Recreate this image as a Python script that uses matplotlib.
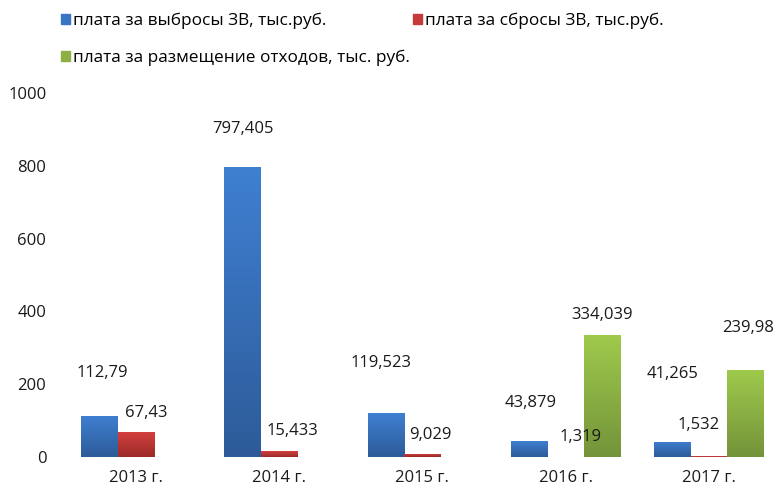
import numpy as np
import matplotlib.pyplot as plt
from matplotlib.colors import LinearSegmentedColormap
from matplotlib.patches import Patch

plt.rcParams['font.family'] = ['Open Sans', 'DejaVu Sans']

# Data
years = ["2013 г.", "2014 г.", "2015 г.", "2016 г.", "2017 г."]
series_names = ["плата за выбросы ЗВ, тыс.руб.",
                "плата за сбросы ЗВ, тыс.руб.",
                "плата за размещение отходов, тыс. руб."]
emissions = [112.79, 797.405, 119.523, 43.879, 41.265]
discharges = [67.43, 15.433, 9.029, 1.319, 1.532]
waste = [0, 0, 0, 334.039, 239.98]
label_emissions = ["112,79", "797,405", "119,523", "43,879", "41,265"]
label_discharges = ["67,43", "15,433", "9,029", "1,319", "1,532"]
label_waste = [None, None, None, "334,039", "239,98"]

# label offsets (pixels) from bar top centre, like the hand-placed Excel labels
off_emissions = [(3, 43), (0, 38), (-5, 50), (2, 38), (0, 68)]
off_discharges = [(10, 19), (13, 20), (8, 19), (15, 20), (-10, 31)]
off_waste = [None, None, None, (0, 20), (3, 42)]

colors = [("#3f80d2", "#2d5b98"), ("#d4403e", "#9a2b29"), ("#9fca4c", "#74933a")]
solid = ["#3a75c4", "#c43c3a", "#8cb043"]

W, H = 775, 488
fig = plt.figure(figsize=(W / 100, H / 100), dpi=100)
ax = fig.add_axes([64.4 / W, 31 / H, 716 / W, 364 / H])

x = np.arange(len(years))
bw = 0.255
grad = np.linspace(0, 1, 256).reshape(-1, 1)
all_series = [emissions, discharges, waste]
all_labels = [label_emissions, label_discharges, label_waste]
all_offsets = [off_emissions, off_discharges, off_waste]

for i, vals in enumerate(all_series):
    bars = ax.bar(x + (i - 1) * bw, vals, bw, color=solid[i], linewidth=0, zorder=2)
    cmap = LinearSegmentedColormap.from_list("g%d" % i, [colors[i][1], colors[i][0]])
    for b in bars:
        if b.get_height() <= 0:
            continue
        x0, w, h = b.get_x(), b.get_width(), b.get_height()
        im = ax.imshow(grad, cmap=cmap, origin="lower", aspect="auto",
                       extent=[x0, x0 + w, 0, h], zorder=3)
        im.set_clip_path(b)
    for j, b in enumerate(bars):
        lab = all_labels[i][j]
        if lab is None:
            continue
        dx, dy = all_offsets[i][j]
        ax.annotate(lab, (b.get_x() + b.get_width() / 2, b.get_height()),
                    xytext=(dx * 0.72, dy * 0.72), textcoords="offset points",
                    ha="center", va="center", fontsize=12, color="#1a1a1a",
                    zorder=10)
ax.set_xlim(-0.5, 4.5)
ax.set_ylim(0, 1000)

ax.set_xticks(x)
ax.set_xticklabels(years)
ax.set_yticks(range(0, 1001, 200))
ax.tick_params(axis="both", length=0, labelsize=12, colors="#1a1a1a")
ax.tick_params(axis="x", pad=9)
ax.tick_params(axis="y", pad=13)
for s in ax.spines.values():
    s.set_visible(False)

handles = [Patch(color=solid[0]), Patch(color=solid[2]), Patch(color=solid[1])]
names = [series_names[0], series_names[2], series_names[1]]
fig.legend(handles, names, ncol=2, loc="upper left", bbox_to_anchor=(61 / W, 1 - 13 / H),
           frameon=False, fontsize=12.4, handlelength=0.5, handleheight=0.5,
           handletextpad=0.2, columnspacing=0.2, labelspacing=1.18, borderpad=0,
           borderaxespad=0)

fig.savefig("out.png", dpi=100)
